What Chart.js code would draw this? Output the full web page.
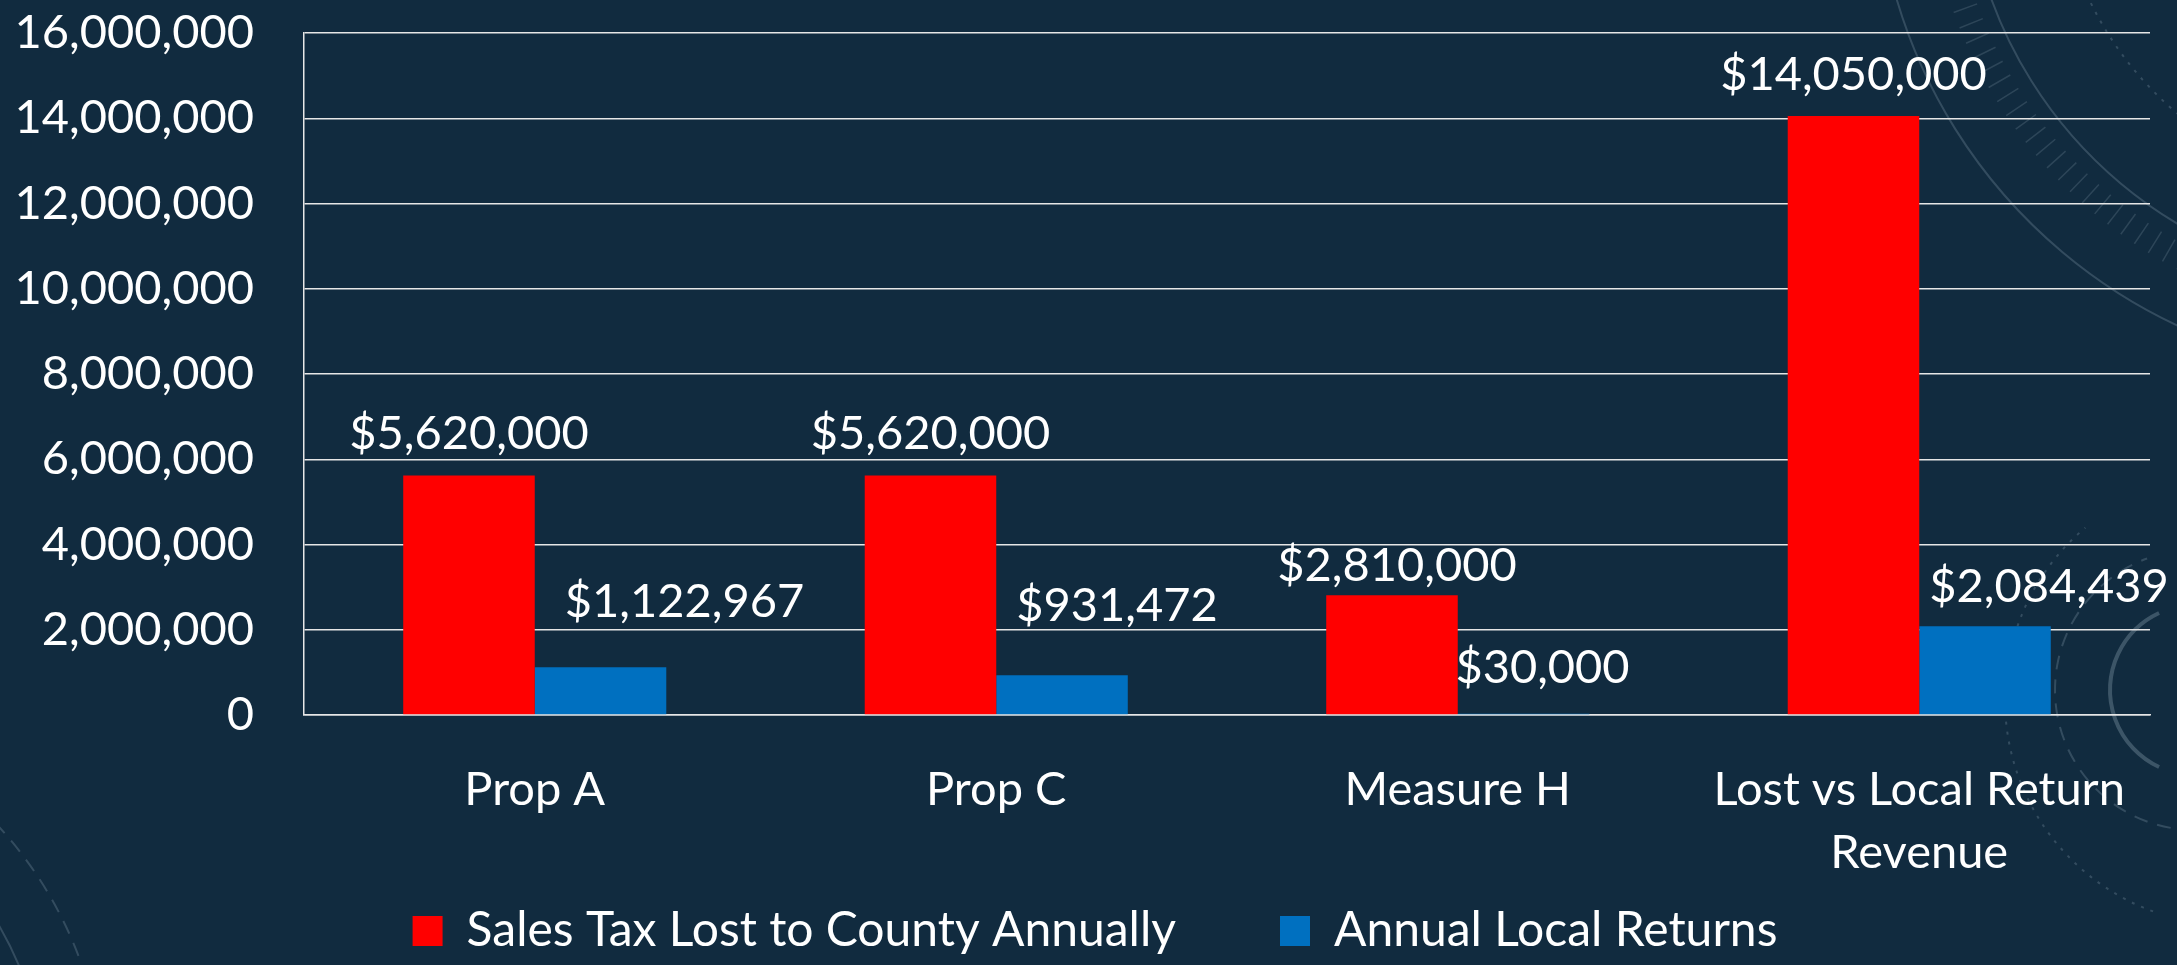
<!DOCTYPE html>
<html>
<head>
<meta charset="utf-8">
<script src="https://cdn.jsdelivr.net/npm/chart.js@4/dist/chart.umd.min.js"></script>
<style>
  html, body { margin: 0; padding: 0; background: #112b3f; overflow: hidden; }
  #wrap { width: 2177px; height: 965px; position: relative; }
</style>
</head>
<body>
<div id="wrap"><canvas id="c" width="2177" height="965"></canvas></div>
<script>
// ---- data ----
const categories = ['Prop A', 'Prop C', 'Measure H', ['Lost vs Local Return', 'Revenue']];
const seriesNames = ['Sales Tax Lost to County Annually', 'Annual Local Returns'];
const salesTaxLost = [5620000, 5620000, 2810000, 14050000];
const localReturns = [1122967, 931472, 30000, 2084439];
const yTickValues = [0, 2000000, 4000000, 6000000, 8000000, 10000000, 12000000, 14000000, 16000000];

// ---- label placement (px, relative to each bar) ----
const labelShiftX = [[0, 0, 5, 0], [84, 55, 19, 64]];
const labelGap = [[26, 26, 14, 26], [50, 54, 31, 24]];

const BG = '#112b3f';
const FONT = 'Lato, "Noto Sans", sans-serif';
const FS = 47;
const LEGEND_FS = 48;

const fmtNum = v => Math.round(v).toLocaleString('en-US');
const fmtMoney = v => '$' + fmtNum(v);

const backgroundPlugin = {
  id: 'bg',
  afterLayout(chart) {
    // centre the legend on the slide rather than on the padded chart box
    if (chart.legend) { chart.legend.left += 20; chart.legend.right += 20; }
  },
  beforeDraw(chart) {
    const ctx = chart.ctx;
    ctx.save();
    ctx.fillStyle = BG;
    ctx.fillRect(0, 0, chart.width, chart.height);
    // faint decorative dial graphics
    const deco = 'rgba(190,210,225,0.2)';
    ctx.strokeStyle = deco;
    ctx.lineWidth = 2;
    const rad = d => d * Math.PI / 180;
    // top right dial
    ctx.beginPath(); ctx.arc(2400, -150, 435, rad(95), rad(165)); ctx.stroke();
    ctx.beginPath(); ctx.arc(2400, -150, 525, rad(95), rad(165)); ctx.stroke();
    ctx.setLineDash([3, 7]);
    ctx.beginPath(); ctx.arc(2400, -150, 345, rad(95), rad(165)); ctx.stroke();
    ctx.setLineDash([]);
    ctx.lineWidth = 1.5;
    ctx.strokeStyle = 'rgba(190,210,225,0.16)';
    for (let a = 100; a <= 162; a += 2) {
      const c = Math.cos(rad(a)), s = Math.sin(rad(a));
      ctx.beginPath();
      ctx.moveTo(2400 + 450 * c, -150 + 450 * s);
      ctx.lineTo(2400 + 475 * c, -150 + 475 * s);
      ctx.stroke();
    }
    // bottom right rings
    ctx.lineWidth = 4;
    ctx.strokeStyle = 'rgba(190,210,225,0.25)';
    ctx.beginPath(); ctx.arc(2195, 690, 85, rad(115), rad(245)); ctx.stroke();
    ctx.lineWidth = 2;
    ctx.strokeStyle = 'rgba(190,210,225,0.2)';
    ctx.setLineDash([14, 10]);
    ctx.beginPath(); ctx.arc(2195, 690, 140, rad(100), rad(250)); ctx.stroke();
    ctx.setLineDash([3, 7]);
    ctx.beginPath(); ctx.arc(2230, 700, 225, rad(110), rad(230)); ctx.stroke();
    ctx.setLineDash([]);
    // bottom left arcs
    ctx.setLineDash([14, 10]);
    ctx.beginPath(); ctx.arc(-300, 1100, 405, rad(-50), rad(-10)); ctx.stroke();
    ctx.setLineDash([]);
    ctx.beginPath(); ctx.arc(-300, 1100, 346, rad(-45), rad(-15)); ctx.stroke();
    ctx.restore();
  }
};

const valueLabelPlugin = {
  id: 'valueLabels',
  afterDatasetsDraw(chart) {
    const ctx = chart.ctx;
    ctx.save();
    ctx.fillStyle = '#ffffff';
    ctx.font = FS + 'px ' + FONT;
    ctx.textAlign = 'center';
    ctx.textBaseline = 'alphabetic';
    chart.data.datasets.forEach((ds, di) => {
      const meta = chart.getDatasetMeta(di);
      meta.data.forEach((bar, i) => {
        const x = bar.x + labelShiftX[di][i];
        const y = bar.y - labelGap[di][i];
        ctx.fillText(fmtMoney(ds.data[i]), x, y);
      });
    });
    ctx.restore();
  }
};

new Chart(document.getElementById('c'), {
  type: 'bar',
  data: {
    labels: categories,
    datasets: [
      { label: seriesNames[0], data: salesTaxLost, backgroundColor: '#ff0000', borderWidth: 0 },
      { label: seriesNames[1], data: localReturns, backgroundColor: '#0070c0', borderWidth: 0 }
    ]
  },
  options: {
    responsive: false,
    animation: false,
    devicePixelRatio: 1,
    layout: { padding: { left: 0, right: 27, top: 33, bottom: 0 } },
    datasets: { bar: { categoryPercentage: 0.57, barPercentage: 1.0 } },
    plugins: {
      tooltip: { enabled: false },
      legend: {
        position: 'bottom',
        align: 'center',
        labels: {
          color: '#ffffff',
          font: { family: FONT, size: LEGEND_FS },
          boxWidth: 30,
          boxHeight: 30,
          padding: 104
        }
      }
    },
    scales: {
      x: {
        grid: { display: false },
        border: { display: true, color: '#e6e6e6', width: 1.5 },
        ticks: {
          color: '#ffffff',
          font: { family: FONT, size: FS, lineHeight: 1.34 },
          padding: 35,
          maxRotation: 0,
          autoSkip: false
        },
        afterFit(scale) {
          scale.height = 88;
          scale.paddingLeft = 0;
          scale.paddingRight = 0;
          // let the two-line category label spill below the axis box
          scale._computeLabelArea = () => undefined;
        }
      },
      y: {
        min: 0,
        max: 16000000,
        afterBuildTicks(scale) { scale.ticks = yTickValues.map(v => ({ value: v })); },
        grid: { color: '#e6e6e6', lineWidth: 1.5, drawTicks: false },
        border: { display: true, color: '#e6e6e6', width: 1.5 },
        ticks: {
          color: '#ffffff',
          font: { family: FONT, size: FS },
          padding: 50,
          callback: v => fmtNum(v)
        },
        afterFit(scale) { scale.width = 304; scale.paddingTop = 0; scale.paddingBottom = 0; }
      }
    }
  },
  plugins: [backgroundPlugin, valueLabelPlugin]
});
</script>
</body>
</html>
